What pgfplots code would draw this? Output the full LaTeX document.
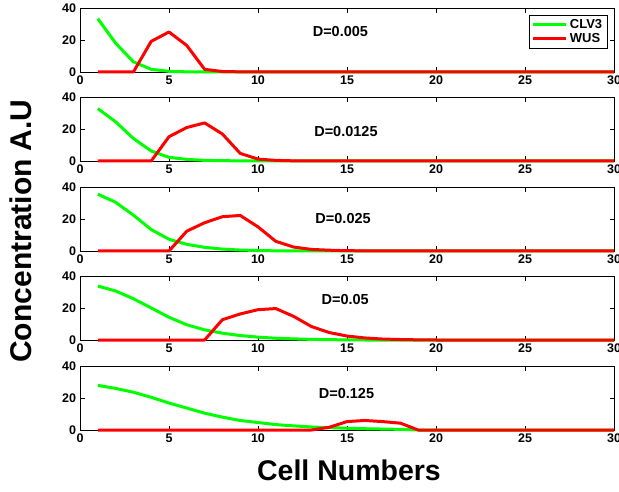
\documentclass[border=0pt]{standalone}
\usepackage{fontspec}
\setmainfont{Liberation Sans}
\usepackage{pgfplots}
\pgfplotsset{compat=1.18}

\definecolor{clvgreen}{rgb}{0,1,0}
\definecolor{wusred}{rgb}{1,0,0}

\tikzset{
  clv/.style={color=clvgreen, line width=3pt, line join=round},
  wus/.style={color=wusred, line width=3pt, line join=round},
  dlabel/.style={font=\bfseries\fontsize{14.5}{16}\selectfont},
}
\pgfplotsset{
  panel/.style={
    scale only axis, width=534pt, height=63.5pt,
    xmin=0, xmax=30, ymin=0, ymax=40,
    xtick={0,5,...,30}, ytick={0,20,40},
    tick align=inside, major tick length=4.5pt,
    axis line style={black, line width=0.8pt},
    tick style={black, line width=0.8pt},
    /pgf/number format/assume math mode=true,
    every tick label/.append style={font=\bfseries\fontsize{12.5}{14}\selectfont},
    xticklabel style={yshift=-0.5pt},
    yticklabel style={xshift=-0.5pt},
    clip=false,
  },
}

\begin{document}
\begin{tikzpicture}

% D = 0.005
\begin{axis}[panel, at={(80pt,419pt)}, anchor=south west,
  legend style={at={(axis description cs:0.988,0.905)}, anchor=north east,
    draw=black, line width=0.8pt, font=\bfseries\fontsize{13}{15}\selectfont,
    inner xsep=3pt, inner ysep=2pt, row sep=0pt},
  legend image code/.code={\draw[#1] (0pt,0pt) -- (33pt,0pt);},
  legend cell align=left]
\addplot[clv] coordinates {(1,33.6)(2,18.2)(3,6.4)(4,1.7)(5,0.4)(6,0.1)(7,0)(8,0)(9,0)(10,0)(15,0)(20,0)(25,0)(30,0)};
\addlegendentry{CLV3}
\addplot[wus] coordinates {(1,0)(2,0)(3,0)(4,19.3)(5,25.2)(6,16.7)(7,1.7)(8,0.3)(9,0.1)(10,0)(15,0)(20,0)(25,0)(30,0)};
\addlegendentry{WUS}
\node[dlabel] at (axis cs:14.63,25.2) {D=0.005};
\end{axis}

% D = 0.0125
\begin{axis}[panel, at={(80pt,330pt)}, anchor=south west]
\addplot[clv] coordinates {(1,33.0)(2,24.7)(3,14.2)(4,6.3)(5,2.3)(6,1.0)(7,0.4)(8,0.2)(9,0.1)(10,0)(15,0)(20,0)(25,0)(30,0)};
\addplot[wus] coordinates {(1,0)(2,0)(3,0)(4,0)(5,15.3)(6,21.1)(7,24.0)(8,17.0)(9,4.8)(10,1.2)(11,0.4)(12,0.1)(13,0)(15,0)(20,0)(25,0)(30,0)};
\node[dlabel] at (axis cs:14.94,18.3) {D=0.0125};
\end{axis}

% D = 0.025
\begin{axis}[panel, at={(80pt,240pt)}, anchor=south west]
\addplot[clv] coordinates {(1,35.8)(2,30.7)(3,22.6)(4,13.5)(5,7.4)(6,4.2)(7,2.3)(8,1.2)(9,0.6)(10,0.3)(11,0.1)(12,0)(15,0)(20,0)(25,0)(30,0)};
\addplot[wus] coordinates {(1,0)(2,0)(3,0)(4,0)(5,0)(6,12.5)(7,17.8)(8,21.6)(9,22.4)(10,15.2)(11,6.1)(12,2.5)(13,1.0)(14,0.5)(15,0.2)(16,0.1)(17,0)(20,0)(25,0)(30,0)};
\node[dlabel] at (axis cs:14.78,20.7) {D=0.025};
\end{axis}

% D = 0.05
\begin{axis}[panel, at={(80pt,151pt)}, anchor=south west]
\addplot[clv] coordinates {(1,34.0)(2,30.9)(3,26.0)(4,20.2)(5,14.3)(6,9.6)(7,6.4)(8,4.3)(9,2.8)(10,1.8)(11,1.1)(12,0.7)(13,0.4)(14,0.2)(15,0.1)(16,0)(20,0)(25,0)(30,0)};
\addplot[wus] coordinates {(1,0)(2,0)(3,0)(4,0)(5,0)(6,0)(7,0)(8,12.8)(9,16.4)(10,19.1)(11,19.8)(12,14.9)(13,8.5)(14,4.7)(15,2.5)(16,1.3)(17,0.6)(18,0.3)(19,0.1)(20,0)(25,0)(30,0)};
\node[dlabel] at (axis cs:14.9,25.6) {D=0.05};
\end{axis}

% D = 0.125
\begin{axis}[panel, at={(80pt,61pt)}, anchor=south west]
\addplot[clv] coordinates {(1,28.1)(2,26.2)(3,23.8)(4,20.6)(5,17.0)(6,13.8)(7,10.6)(8,8.1)(9,6.0)(10,4.7)(11,3.4)(12,2.6)(13,1.9)(14,1.5)(15,1.1)(16,0.8)(17,0.6)(18,0.4)(19,0)(20,0)(25,0)(30,0)};
\addplot[wus] coordinates {(1,0)(2,0)(3,0)(4,0)(5,0)(6,0)(7,0)(8,0)(9,0)(10,0)(11,0)(12,0)(13,0)(14,1.7)(15,5.3)(16,6.0)(17,5.3)(18,4.3)(19,0)(20,0)(25,0)(30,0)};
\node[dlabel] at (axis cs:14.97,23.1) {D=0.125};
\end{axis}

% shared axis titles
\node[rotate=90, font=\bfseries\fontsize{30}{33}\selectfont] at (21pt,260pt) {Concentration A.U};
\node[font=\bfseries\fontsize{28.5}{31}\selectfont] at (349pt,21pt) {Cell Numbers};

\pgfresetboundingbox
\useasboundingbox (0pt,0pt) rectangle (619pt,491pt);
\end{tikzpicture}
\end{document}
